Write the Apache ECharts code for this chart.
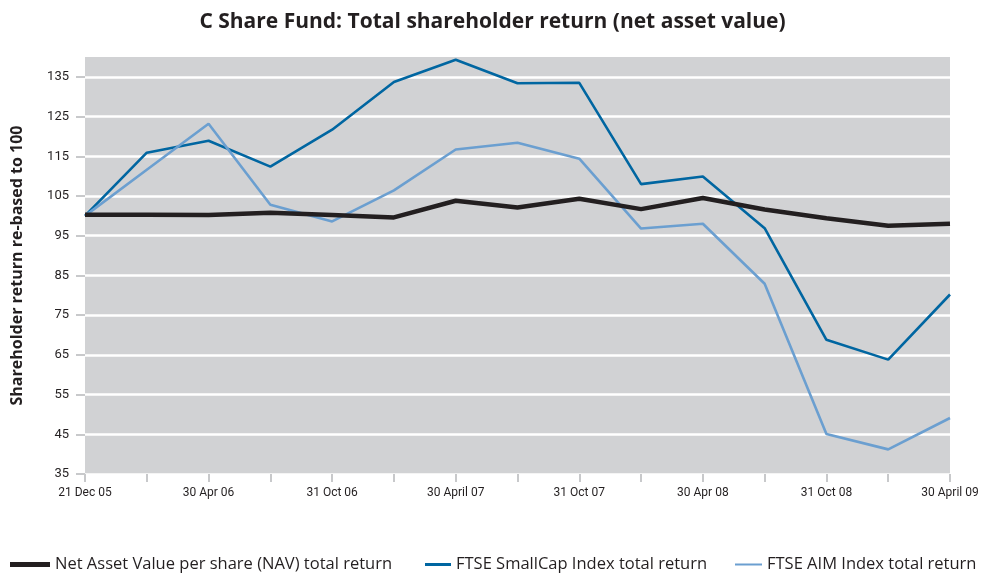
<!DOCTYPE html>
<html>
<head>
<meta charset="utf-8">
<script src="https://cdn.jsdelivr.net/npm/echarts@6/dist/echarts.min.js"></script>
<style>
html,body{margin:0;padding:0;background:#fff;}
#main{width:985px;height:573px;}
</style>
</head>
<body>
<div id="main"></div>
<script>
var categories = ['21 Dec 05','','30 Apr 06','','31 Oct 06','','30 April 07','','31 Oct 07','','30 Apr 08','','31 Oct 08','','30 April 09'];
var navValues = [100.3,100.3,100.2,100.8,100.2,99.6,103.8,102.1,104.3,101.7,104.5,101.6,99.4,97.5,98.0];
var smallCapValues = [100,115.9,118.9,112.4,121.7,133.7,139.3,133.4,133.5,108.0,109.9,96.9,68.8,63.8,80.2];
var aimValues = [100,111.6,123.2,102.8,98.6,106.4,116.7,118.4,114.4,96.8,98.0,82.9,45.1,41.2,49.1];
var yTicks = [35,45,55,65,75,85,95,105,115,125,135];
var seriesNames = ['Net Asset Value per share (NAV) total return','FTSE SmallCap Index total return','FTSE AIM Index total return'];
var seriesColors = ['#231f20','#0066a1','#6b9fd0'];

var font = 'Roboto, "Open Sans", sans-serif';
var boldFont = '"Open Sans", "Noto Sans", sans-serif';
var legendText = {fontFamily: boldFont, fontSize: 16.5, color: '#231f20'};

var chartDom = document.getElementById('main');
var myChart = echarts.init(chartDom);
var option = {
  animation: false,
  title: {
    text: 'C Share Fund: Total shareholder return (net asset value)',
    left: 'center',
    top: 7,
    textStyle: {fontFamily: boldFont, fontSize: 21, fontWeight: 'bold', color: '#231f20'}
  },
  legend: [
    {bottom: -5, left: 5, icon: 'rect', itemWidth: 40, itemHeight: 5, itemGap: 6,
     data: [seriesNames[0]], textStyle: legendText},
    {bottom: -5, left: 420, icon: 'rect', itemWidth: 26, itemHeight: 3, itemGap: 6,
     data: [seriesNames[1]], textStyle: legendText},
    {bottom: -5, left: 730, icon: 'rect', itemWidth: 27, itemHeight: 2, itemGap: 6,
     data: [seriesNames[2]], textStyle: legendText}
  ],
  grid: {
    left: 85, right: 35, top: 57, bottom: 99,
    show: true, backgroundColor: '#d1d2d4', borderWidth: 0
  },
  xAxis: {
    type: 'category',
    data: categories,
    boundaryGap: false,
    axisLine: {show: false},
    axisTick: {show: true, interval: 0, length: 8, lineStyle: {color: '#c8c9cb', width: 2}},
    axisLabel: {interval: 0, margin: 13, fontFamily: font, fontSize: 12, color: '#231f20'},
    splitLine: {show: false}
  },
  yAxis: {
    type: 'value',
    min: 35,
    max: 140,
    name: 'Shareholder return re-based to 100',
    nameLocation: 'middle',
    nameGap: 60,
    nameTextStyle: {fontFamily: boldFont, fontSize: 16, fontWeight: 'bold', color: '#231f20'},
    axisLine: {show: false},
    axisTick: {show: true, length: 9, customValues: yTicks, lineStyle: {color: '#c8c9cb', width: 2}},
    axisLabel: {margin: 16, fontFamily: font, fontSize: 13, color: '#231f20', customValues: yTicks},
    splitLine: {show: true, lineStyle: {color: '#ffffff', width: 2.5}}
  },
  series: [
    {name: seriesNames[0], type: 'line', data: navValues, symbol: 'none', z: 3,
     lineStyle: {color: seriesColors[0], width: 4.5}, itemStyle: {color: seriesColors[0]}},
    {name: seriesNames[1], type: 'line', data: smallCapValues, symbol: 'none', z: 2,
     lineStyle: {color: seriesColors[1], width: 2.6}, itemStyle: {color: seriesColors[1]}},
    {name: seriesNames[2], type: 'line', data: aimValues, symbol: 'none', z: 2,
     lineStyle: {color: seriesColors[2], width: 2.6}, itemStyle: {color: seriesColors[2]}}
  ]
};
myChart.setOption(option);
</script>
</body>
</html>
